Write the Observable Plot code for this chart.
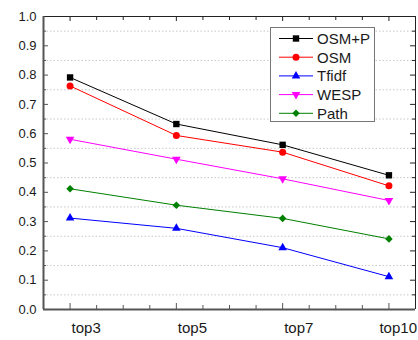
<!DOCTYPE html>
<html><head><meta charset="utf-8">
<script src="https://cdn.jsdelivr.net/npm/d3@7"></script>
<script src="https://cdn.jsdelivr.net/npm/@observablehq/plot@0.6"></script>
<style>
body{margin:0;background:#fff;}
#chart{position:relative;width:418px;height:340px;}
svg{font-family:"Liberation Sans",Arial,sans-serif;}
</style>
</head><body><div id="chart"></div>
<script>
// ---- data ----
const categories = ["top3", "top5", "top7", "top10"];
const seriesNames = ["OSM+P", "OSM", "Tfidf", "WESP", "Path"];
const osmP  = [0.792, 0.633, 0.562, 0.458];
const osm   = [0.763, 0.594, 0.537, 0.422];
const tfidf = [0.312, 0.277, 0.211, 0.112];
const wesp  = [0.581, 0.513, 0.446, 0.372];
const path  = [0.412, 0.356, 0.311, 0.241];
const yTickLabels = [0, 0.1, 0.2, 0.3, 0.4, 0.5, 0.6, 0.7, 0.8, 0.9, 1.0];
const yMinor = [0.05, 0.15, 0.25, 0.35, 0.45, 0.55, 0.65, 0.75, 0.85, 0.95];

// ---- styles / layout ----
const W = 418, H = 340, mL = 43, mR = 3, mT = 16, mB = 31;
const pw = W - mL - mR, ph = H - mT - mB;
const xDomain = [-0.25, 3.25];
const xMajor = categories.map((_, i) => i);
const xMinor = d3.range(0, 3.01, 0.25).filter(v => v % 1 !== 0);

const triangleDown = {
  draw(context, size) {
    const y = -Math.sqrt(size / (Math.sqrt(3) * 3));
    const s3 = Math.sqrt(3);
    context.moveTo(0, -2 * y);
    context.lineTo(-s3 * y, y);
    context.lineTo(s3 * y, y);
    context.closePath();
  }
};
const colors  = ["#000000", "#ff0000", "#0000ff", "#ff00ff", "#008000"];
const symbols = [d3.symbolSquare, d3.symbolCircle, d3.symbolTriangle, triangleDown, d3.symbolDiamond2];
const radii   = [3.6, 3.5, 3.2, 3.2, 3.4];
const seriesValues = [osmP, osm, tfidf, wesp, path];

const rows = [];
seriesNames.forEach((name, s) => {
  seriesValues[s].forEach((v, i) => rows.push({series: name, s, i, cat: categories[i], value: v}));
});

const seriesMarks = [];
seriesNames.forEach((name, s) => {
  const data = rows.filter(d => d.s === s);
  seriesMarks.push(Plot.line(data, {x: "i", y: "value", stroke: colors[s], strokeWidth: 1}));
});
seriesNames.forEach((name, s) => {
  const data = rows.filter(d => d.s === s);
  seriesMarks.push(Plot.dot(data, {x: "i", y: "value", symbol: symbols[s], r: radii[s], fill: colors[s], stroke: "none"}));
});

const axisCol = "#555";
const chart = Plot.plot({
  width: W, height: H,
  marginLeft: mL, marginRight: mR, marginTop: mT, marginBottom: mB,
  x: {domain: xDomain, axis: null},
  y: {domain: [0, 1], axis: null},
  style: {fontFamily: '"Liberation Sans", Arial, sans-serif', background: "#fff"},
  marks: [
    Plot.ruleY(yMinor, {y: d => d, stroke: "#c8c8c8", strokeDasharray: "1.5,2"}),
    // ticks (inward)
    Plot.tickY(yTickLabels, {y: d => d, insetRight: pw - 5, stroke: axisCol}),
    Plot.tickY(yMinor, {y: d => d, insetRight: pw - 3, stroke: axisCol}),
    Plot.tickY(yTickLabels, {y: d => d, insetLeft: pw - 5, stroke: "#222"}),
    Plot.tickY(yMinor, {y: d => d, insetLeft: pw - 3, stroke: "#222"}),
    Plot.tickX(xMajor, {x: d => d, insetTop: ph - 6, stroke: axisCol}),
    Plot.tickX(xMinor, {x: d => d, insetTop: ph - 4, stroke: axisCol}),
    Plot.tickX(xMajor, {x: d => d, insetBottom: ph - 5, stroke: "#222"}),
    Plot.tickX(xMinor, {x: d => d, insetBottom: ph - 4, stroke: "#222"}),
    // frame
    Plot.ruleX([xDomain[1]], {stroke: "#222", strokeWidth: 1}),
    Plot.ruleY([1], {stroke: "#222", strokeWidth: 1}),
    Plot.ruleX([xDomain[0]], {stroke: axisCol, strokeWidth: 2}),
    Plot.ruleY([0], {stroke: axisCol, strokeWidth: 2}),
    // y tick labels
    Plot.text(yTickLabels, {y: d => d, text: d => d.toFixed(1), frameAnchor: "left", textAnchor: "end", dx: -7, fontSize: 13, fill: "#1a1a1a"}),
    // x labels
    Plot.text(categories.slice(0, 3), {x: (d, i) => i, text: d => d, frameAnchor: "bottom", textAnchor: "start", dx: 1.5, dy: 23, fontSize: 15, fill: "#1a1a1a"}),
    Plot.text(categories.slice(3), {text: d => d, frameAnchor: "bottom-right", textAnchor: "end", dx: 1.5, dy: 23, fontSize: 15, fill: "#1a1a1a"}),
    ...seriesMarks
  ]
});
document.getElementById("chart").appendChild(chart);

// ---- legend (inside plot, top right) ----
const svg = d3.select(chart);
const lg = svg.append("g").attr("class", "legend");
const box = {x: 270.5, y: 27.5, w: 104, h: 94};
lg.append("rect").attr("x", box.x).attr("y", box.y).attr("width", box.w).attr("height", box.h)
  .attr("fill", "#fff").attr("stroke", "#777").attr("stroke-width", 1);
seriesNames.forEach((name, s) => {
  const cy = 38.5 + s * 18.7;
  const g = lg.append("g");
  g.append("line").attr("x1", 279).attr("x2", 313).attr("y1", cy).attr("y2", cy)
    .attr("stroke", colors[s]).attr("stroke-width", 1);
  g.append("path").attr("transform", `translate(296,${cy})`)
    .attr("d", d3.symbol().type(symbols[s]).size(Math.PI * radii[s] * radii[s])())
    .attr("fill", colors[s]);
  g.append("text").attr("x", 317).attr("y", cy).attr("dy", "0.36em")
    .style("font-size", "15px").style("text-anchor", "start")
    .style("font-family", '"Liberation Sans", Arial, sans-serif')
    .attr("fill", "#1a1a1a").text(name);
});
</script>
</body></html>
